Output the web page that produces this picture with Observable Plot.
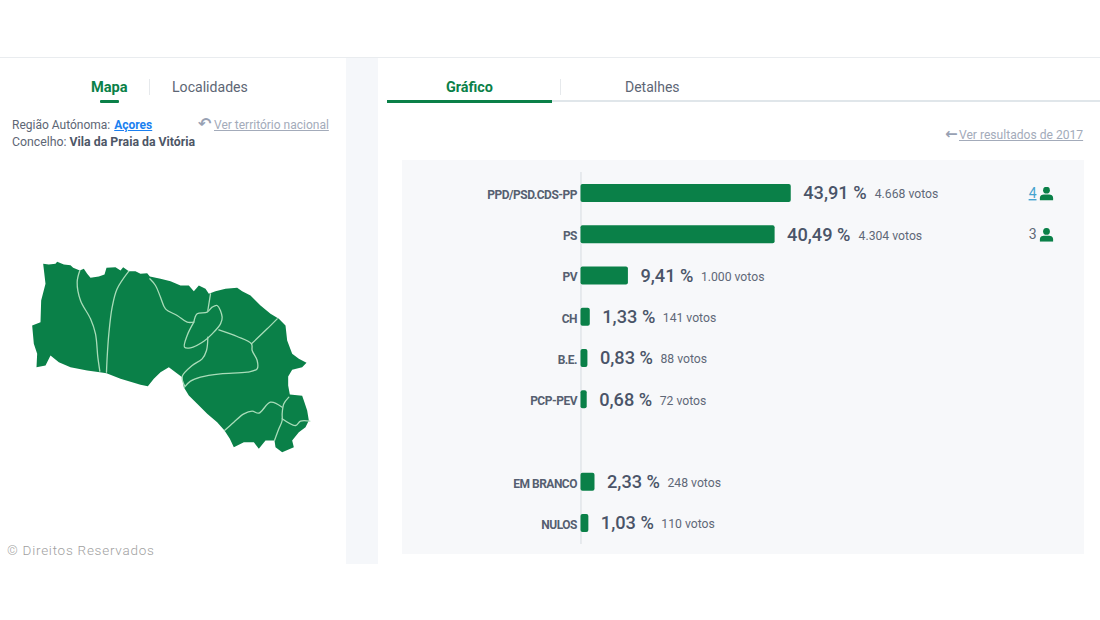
<!DOCTYPE html>
<html lang="pt">
<head>
<meta charset="utf-8">
<script src="https://cdn.jsdelivr.net/npm/d3@7"></script>
<script src="https://cdn.jsdelivr.net/npm/@observablehq/plot@0.6"></script>
<style>
html,body{margin:0;padding:0;background:#fff;width:1100px;height:620px;overflow:hidden;font-family:Roboto,sans-serif;}
#page{position:relative;width:1100px;height:620px;overflow:hidden;}
#page>*{position:absolute;}
.t{white-space:nowrap;line-height:1;}
svg{position:absolute;left:0;top:0;background:transparent!important;}
.seat-link{text-decoration:underline;}
g[aria-label="y-axis tick label"]{letter-spacing:-.5px;}
</style>
</head>
<body>
<div id="page">
  <div style="left:0;top:57px;width:1100px;height:1px;background:#e9ecef"></div>
  <div style="left:346px;top:58px;width:32px;height:506px;background:#f5f7fa"></div>
  <div style="left:402px;top:160px;width:682px;height:394px;background:#f7f8fa"></div>

  <div class="t" style="left:91px;top:80px;font-size:14.6px;font-weight:700;color:#0a8048">Mapa</div>
  <div style="left:100px;top:100px;width:19px;height:3px;background:#0a8048;border-radius:1px"></div>
  <div style="left:149px;top:79px;width:1px;height:16px;background:#e6e9ec"></div>
  <div class="t" style="left:172px;top:80px;font-size:14.1px;color:#5d6675">Localidades</div>
  <div class="t" style="left:12px;top:119px;font-size:12px;color:#5d6675">Região Autónoma: <b style="color:#1a7ff0;text-decoration:underline;margin-left:1px">Açores</b></div>
  <div class="t" style="left:12px;top:136px;font-size:12.3px;color:#5d6675">Concelho: <b style="color:#4d5666">Vila da Praia da Vitória</b></div>
  <div class="t" style="left:198px;top:116px;font-size:16px;font-weight:700;font-family:'DejaVu Sans';color:#98a1b3">↶</div>
  <div class="t" style="left:214px;top:119px;font-size:12px;color:#a3abba;text-decoration:underline">Ver território nacional</div>
  <div class="t" style="left:7px;top:544px;font-size:13.5px;font-weight:300;color:#9f9f9f;letter-spacing:.75px">© Direitos Reservados</div>

  <div class="t" style="left:446px;top:81px;font-size:14.4px;font-weight:700;color:#0a8048">Gráfico</div>
  <div style="left:552px;top:100px;width:548px;height:2px;background:#e0e6ea"></div>
  <div style="left:387px;top:100px;width:165px;height:3px;background:#0a8048"></div>
  <div style="left:560px;top:79px;width:1px;height:16px;background:#e6e9ec"></div>
  <div class="t" style="left:625px;top:80px;font-size:14px;color:#5d6675">Detalhes</div>
  <div class="t" style="left:945px;top:127px;font-size:15px;font-family:'DejaVu Sans';font-weight:700;color:#98a1b3">←</div>
  <div class="t" style="left:959px;top:129px;font-size:12.1px;color:#a3abba;text-decoration:underline">Ver resultados de 2017</div>
</div>
<script>
// Results
const parties = ["PPD/PSD.CDS-PP", "PS", "PV", "CH", "B.E.", "PCP-PEV", " ", "EM BRANCO", "NULOS"];
const percents = [43.91, 40.49, 9.41, 1.33, 0.83, 0.68, null, 2.33, 1.03];
const votes = [4668, 4304, 1000, 141, 88, 72, null, 248, 110];
const seats = [4, 3, null, null, null, null, null, null, null];

// Map outline and parish borders
const mapOutline = [[68,40],[85,42],[105,40],[110,34],[130,42],[150,44],[158,52],[178,60],[190,55],[200,70],[210,82],[235,78],[252,72],[258,52],[285,50],[300,60],[308,50],[325,62],[345,62],[360,70],[380,68],[388,78],[420,85],[450,92],[480,105],[505,105],[520,122],[535,105],[555,115],[565,130],[585,122],[615,115],[650,112],[665,122],[690,135],[720,165],[750,190],[775,205],[795,225],[800,270],[815,310],[835,325],[858,337],[845,350],[815,358],[803,378],[803,405],[808,432],[845,436],[850,450],[860,480],[865,510],[855,530],[835,545],[815,570],[820,590],[785,605],[765,590],[762,570],[735,570],[715,595],[700,575],[670,575],[640,590],[628,565],[612,540],[590,515],[560,490],[530,460],[505,435],[490,410],[485,380],[465,365],[445,350],[420,365],[400,385],[382,407],[360,403],[300,385],[258,368],[238,365],[200,360],[150,350],[115,335],[90,315],[75,345],[48,350],[50,310],[40,280],[35,225],[60,215],[62,150],[75,100],[68,40]];
const mapBorders = [
  [[178,60],[170,95],[180,150],[210,205],[225,250],[232,320],[238,362]],
  [[325,62],[290,115],[275,170],[265,250],[260,320],[258,365]],
  [[388,85],[405,105],[420,140],[435,175],[470,195],[500,215],[520,215]],
  [[520,215],[500,255],[492,290],[510,292],[550,272],[575,250],[600,220],[605,200],[590,165],[575,170],[560,185],[530,190],[520,215]],
  [[570,130],[562,180]],
  [[770,205],[740,235],[693,280]],
  [[595,238],[650,258],[693,280],[695,300],[710,330],[710,355],[680,365],[600,370],[540,380],[510,392],[492,410]],
  [[562,260],[558,300],[545,325],[515,345],[485,378],[492,405]],
  [[612,540],[640,515],[670,490],[695,482],[715,488],[750,455],[785,470]],
  [[805,440],[790,460],[785,490],[785,510],[775,535],[762,570]],
  [[785,505],[825,525],[840,512],[868,512]]
];

const GREEN = "#0a8048", INK = "#4a5468", SOFT = "#5f6878";
const ptPT = d3.formatLocale({decimal: ",", thousands: ".", grouping: [3]});
const fmtVotes = ptPT.format(",d"), fmtPct = ptPT.format(".2f");

const rows = parties.map((party, i) => ({party, pct: percents[i], votes: votes[i], seats: seats[i]}));
const results = rows.filter(d => d.pct != null);
const wide = results.filter(d => d.pct >= 10), narrow = results.filter(d => d.pct < 10);

const person = "data:image/svg+xml," + encodeURIComponent(
  `<svg xmlns="http://www.w3.org/2000/svg" viewBox="0 0 14 14"><circle cx="7" cy="3.6" r="3.4" fill="${GREEN}"/><path d="M0.3 14V11.6C0.3 9 2.4 7.9 4.4 7.9H9.6C11.6 7.9 13.7 9 13.7 11.6V14Z" fill="${GREEN}"/></svg>`);

const votesLabel = d => `${fmtVotes(d.votes)} votos`;
const pctLabel = d => `${fmtPct(d.pct)} %`;
const seatRows = rows.filter(d => d.seats != null);

const chart = Plot.plot({
  width: 1100, height: 620,
  marginLeft: 583.5, marginRight: 44.5, marginTop: 160.8, marginBottom: 64.7,
  style: {fontFamily: "Roboto, sans-serif", background: "transparent"},
  x: {domain: [0, 100], axis: null},
  y: {domain: parties, padding: 0.563, round: false, label: null},
  marks: [
    Plot.axisY({anchor: "left", tickSize: 0, tickPadding: 7, fontSize: 12, fontWeight: 700, fill: "#565f70", label: null, dy: 1.5}),
    Plot.ruleX([-0.64], {stroke: "#d6dbe0", insetTop: 11.2, insetBottom: 11.3}),
    Plot.barX(results, {x: "pct", y: "party", fill: GREEN, insetLeft: -3, rx: 2}),
    Plot.text(results, {x: "pct", y: "party", text: pctLabel, textAnchor: "start", dx: 12, fontSize: 18.2, fontWeight: 500, fill: INK}),
    Plot.text(wide, {x: "pct", y: "party", text: votesLabel, textAnchor: "start", dx: 83.5, dy: 1, fontSize: 12.2, fill: SOFT}),
    Plot.text(narrow, {x: "pct", y: "party", text: votesLabel, textAnchor: "start", dx: 72.5, dy: 1, fontSize: 12.2, fill: SOFT}),
    Plot.text(seatRows.filter(d => d.seats === 4), {y: "party", text: "seats", frameAnchor: "right", textAnchor: "end", dx: -19.5, fontSize: 14, fill: "#46a3cf", className: "seat-link"}),
    Plot.text(seatRows.filter(d => d.seats !== 4), {y: "party", text: "seats", frameAnchor: "right", textAnchor: "end", dx: -19.5, fontSize: 14, fill: SOFT}),
    Plot.image(seatRows, {y: "party", src: () => person, frameAnchor: "right", dx: -9.5, width: 14, height: 14})
  ]
});

const outlineRows = mapOutline.map(([x, y]) => ({x, y}));
const borderRows = mapBorders.flatMap((b, id) => b.map(([x, y]) => ({id, x, y})));
const map = Plot.plot({
  width: 1100, height: 620,
  margin: 0,
  style: {background: "transparent"},
  x: {domain: [0, 900], range: [20, 320], axis: null},
  y: {domain: [0, 630], range: [250, 460], axis: null},
  marks: [
    Plot.line(outlineRows, {x: "x", y: "y", fill: GREEN, stroke: "none", curve: "linear"}),
    Plot.line(borderRows, {x: "x", y: "y", z: "id", stroke: "#a9dcb9", strokeWidth: 1.3, curve: "catmull-rom"})
  ]
});

const page = document.getElementById("page");
page.appendChild(map);
page.appendChild(chart);
</script>
</body>
</html>
